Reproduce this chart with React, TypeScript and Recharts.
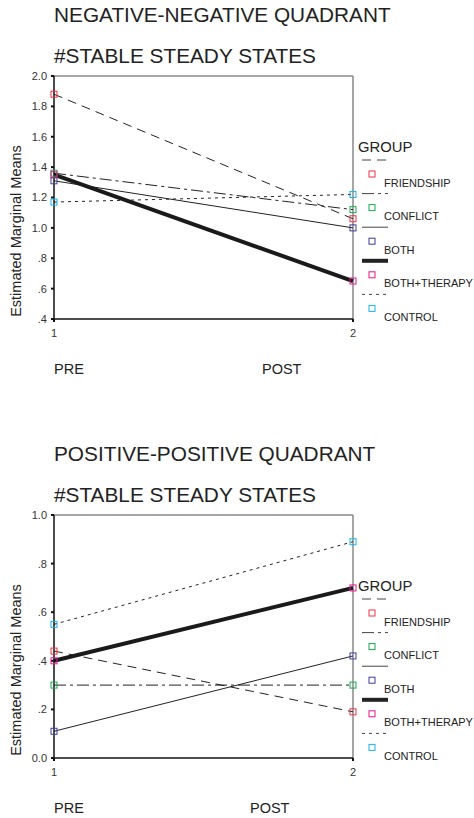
import React from "react";
import { LineChart, Line, XAxis, YAxis, ReferenceLine } from "recharts";

// groups and their look
const groups = ["FRIENDSHIP", "CONFLICT", "BOTH", "BOTH+THERAPY", "CONTROL"];
const markerColors = ["#ee3340", "#19a94e", "#3b3b9c", "#e3168a", "#1bb2ea"];
const lineDash = ["9 6", "12 4 3 4", "", "", "3 4"];
const lineWidth = [1, 1, 1, 4, 1];
const lineColor = ["#222", "#222", "#222", "#1a1a1a", "#222"];

const times = [1, 2];
const timeLabels = ["PRE", "POST"];

// negative-negative quadrant (PRE, POST)
const negFriendship = [1.88, 1.06];
const negConflict = [1.36, 1.12];
const negBoth = [1.31, 1.0];
const negBothTherapy = [1.35, 0.65];
const negControl = [1.17, 1.22];
const negTicks = [0.4, 0.6, 0.8, 1.0, 1.2, 1.4, 1.6, 1.8, 2.0];

// positive-positive quadrant (PRE, POST)
const posFriendship = [0.44, 0.19];
const posConflict = [0.3, 0.3];
const posBoth = [0.11, 0.42];
const posBothTherapy = [0.4, 0.7];
const posControl = [0.55, 0.89];
const posTicks = [0.0, 0.2, 0.4, 0.6, 0.8, 1.0];

const buildData = (series: number[][]) =>
    times.map((t, i) => {
        const row: Record<string, number> = { time: t };
        groups.forEach((g, k) => {
            row[g] = series[k][i];
        });
        return row;
    });

const fmtY = (v: number) => {
    if (v === 0) return "0.0";
    if (v < 1) return "." + Math.round(v * 10);
    return v.toFixed(1);
};

const font = "'Liberation Sans', Arial, sans-serif";

const squareDot = (color: string) => (props: any) => {
    const { cx, cy, index } = props;
    if (cx == null || cy == null) return <g key={index} />;
    return (
        <rect
            key={index}
            x={cx - 3}
            y={cy - 3}
            width={6}
            height={6}
            fill="none"
            stroke={color}
            strokeWidth={1}
        />
    );
};

interface PanelProps {
    title: string;
    data: Record<string, number>[];
    ticks: number[];
    postX: number;
}

const Panel: React.FC<PanelProps> = ({ title, data, ticks, postX }) => {
    const yMin = ticks[0];
    const yMax = ticks[ticks.length - 1];
    return (
        <div style={{ position: "relative", width: 474, height: 439 }}>
            <div style={{ position: "absolute", left: 0, top: 0 }}>
                <LineChart
                    width={474}
                    height={345}
                    data={data}
                    margin={{ top: 76, right: 121, bottom: 5, left: 0 }}
                >
                    <XAxis
                        dataKey="time"
                        type="number"
                        domain={[1, 2]}
                        ticks={times}
                        height={21}
                        tickSize={3}
                        tickMargin={7}
                        axisLine={{ stroke: "#111", strokeWidth: 1.5 }}
                        tickLine={{ stroke: "#111", strokeWidth: 2 }}
                        tick={{ fontSize: 11, fill: "#333", fontFamily: font }}
                    />
                    <YAxis
                        type="number"
                        domain={[yMin, yMax]}
                        ticks={ticks}
                        width={54}
                        tickSize={3}
                        tickMargin={4}
                        tickFormatter={fmtY}
                        axisLine={{ stroke: "#111", strokeWidth: 1.5 }}
                        tickLine={{ stroke: "#111", strokeWidth: 2 }}
                        tick={{ fontSize: 11, fill: "#333", fontFamily: font }}
                    />
                    <ReferenceLine y={yMax} stroke="#888" strokeWidth={1.5} />
                    <ReferenceLine x={2} stroke="#888" strokeWidth={1.5} />
                    {groups.map((g, k) => (
                        <Line
                            key={g}
                            type="linear"
                            dataKey={g}
                            stroke={lineColor[k]}
                            strokeWidth={lineWidth[k]}
                            strokeDasharray={lineDash[k] || undefined}
                            dot={squareDot(markerColors[k])}
                            activeDot={false}
                            isAnimationActive={false}
                        />
                    ))}
                </LineChart>
            </div>
            <svg
                width={474}
                height={439}
                style={{ position: "absolute", left: 0, top: 0, pointerEvents: "none" }}
                fontFamily={font}
            >
                <text x={54} y={22} fontSize={20.8} fill="#222">
                    {title}
                </text>
                <text x={54} y={63} fontSize={20.8} fill="#222">
                    #STABLE STEADY STATES
                </text>
                <text
                    x={21}
                    y={231}
                    fontSize={14.5}
                    fill="#222"
                    textAnchor="middle"
                    transform="rotate(-90 21 231)"
                >
                    Estimated Marginal Means
                </text>
                <text x={54} y={374} fontSize={14.5} fill="#222">
                    {timeLabels[0]}
                </text>
                <text x={postX} y={374} fontSize={14.5} fill="#222">
                    {timeLabels[1]}
                </text>
                <text x={358} y={152} fontSize={14.8} fill="#222">
                    GROUP
                </text>
                {groups.map((g, k) => {
                    const ly = 160 + 33.6 * k;
                    return (
                        <g key={g}>
                            <line
                                x1={362}
                                x2={388}
                                y1={ly}
                                y2={ly}
                                stroke={k === 3 ? "#222" : "#444"}
                                strokeWidth={lineWidth[k]}
                                strokeDasharray={lineDash[k] || undefined}
                            />
                            <rect
                                x={369}
                                y={ly + 11}
                                width={6}
                                height={6}
                                fill="none"
                                stroke={markerColors[k]}
                            />
                            <text x={384} y={ly + 26.5} fontSize={11} fill="#222">
                                {g}
                            </text>
                        </g>
                    );
                })}
            </svg>
        </div>
    );
};

const negData = buildData([negFriendship, negConflict, negBoth, negBothTherapy, negControl]);
const posData = buildData([posFriendship, posConflict, posBoth, posBothTherapy, posControl]);

export default function App() {
    return (
        <div
            style={{
                position: "absolute",
                left: 0,
                top: 0,
                width: 474,
                height: 818,
                overflow: "hidden",
                background: "#fff",
            }}
        >
            <Panel title="NEGATIVE-NEGATIVE QUADRANT" data={negData} ticks={negTicks} postX={262} />
            <Panel title="POSITIVE-POSITIVE QUADRANT" data={posData} ticks={posTicks} postX={250} />
        </div>
    );
}
